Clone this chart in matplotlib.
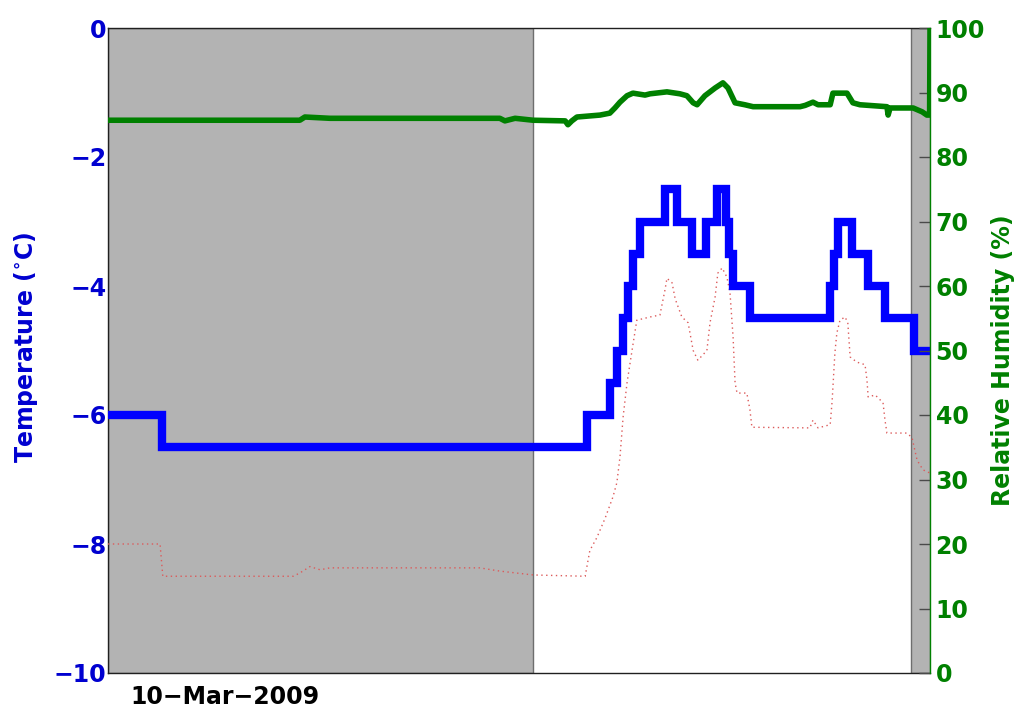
import datetime as dt
import matplotlib
matplotlib.use("Agg")
import matplotlib.pyplot as plt
import matplotlib.dates as mdates
from matplotlib.ticker import FixedLocator

# ---------------------------------------------------------------- data
# times are hours relative to 00:00 on 10 March 2009
day = dt.datetime(2009, 3, 10)
x_start_h, x_end_h = -3.0, 18.0

# air temperature (deg C), logged in 0.5 degree steps
temp_hours = [-3.00, -1.62, 9.24, 9.82, 10.00, 10.16, 10.28, 10.41, 10.59,
              11.23, 11.54, 11.92, 12.28, 12.56, 12.80, 12.87, 12.97, 13.40,
              15.45, 15.55, 15.65, 16.01, 16.42, 16.85, 17.59, 18.00]
temp_values = [-6.0, -6.5, -6.0, -5.5, -5.0, -4.5, -4.0, -3.5, -3.0,
               -2.5, -3.0, -3.5, -3.0, -2.5, -3.0, -3.5, -4.0, -4.5,
               -4.0, -3.5, -3.0, -3.5, -4.0, -4.5, -5.0, -5.0]

# dew point (deg C)
dew_hours = [-3.00, -1.67, -1.60, 1.73, 1.90, 2.16, 2.42, 2.67, 6.50, 7.01,
             7.86, 9.19, 9.31, 9.49, 9.70, 9.90, 10.00, 10.08, 10.16, 10.26,
             10.39, 10.51, 10.85, 11.10, 11.23, 11.28, 11.41, 11.49, 11.66,
             11.82, 11.95, 12.07, 12.30, 12.38, 12.51, 12.58, 12.69, 12.81,
             12.89, 12.97, 13.02, 13.07, 13.32, 13.40, 13.45, 14.93, 15.01,
             15.14, 15.45, 15.50, 15.57, 15.62, 15.70, 15.83, 15.90, 15.96,
             16.13, 16.34, 16.39, 16.42, 16.60, 16.80, 16.85, 16.90, 17.41,
             17.54, 17.67, 17.82, 18.00]
dew_values = [-8.0, -8.0, -8.5, -8.5, -8.45, -8.35, -8.4, -8.37, -8.37, -8.42,
              -8.48, -8.5, -8.1, -7.9, -7.6, -7.27, -7.05, -6.65, -6.03, -5.5,
              -4.99, -4.53, -4.48, -4.45, -4.06, -3.88, -3.95, -4.2, -4.48,
              -4.57, -5.0, -5.15, -5.0, -4.57, -4.17, -3.8, -3.72, -3.86,
              -4.1, -4.8, -5.5, -5.66, -5.66, -5.92, -6.19, -6.2, -6.08,
              -6.2, -6.15, -5.78, -5.04, -4.73, -4.53, -4.48, -4.57, -5.1,
              -5.18, -5.22, -5.46, -5.72, -5.69, -5.81, -6.08, -6.28, -6.28,
              -6.35, -6.7, -6.85, -6.9]

# relative humidity (%)
rh_hours = [-3.00, 1.90, 2.03, 2.67, 7.01, 7.14, 7.40, 7.86, 8.68, 8.75,
            8.85, 8.98, 9.57, 9.82, 9.95, 10.08, 10.26, 10.41, 10.72, 10.85,
            11.28, 11.61, 11.79, 11.95, 12.05, 12.25, 12.51, 12.71, 12.84,
            13.02, 13.27, 13.48, 14.68, 14.81, 15.01, 15.14, 15.45, 15.52,
            15.88, 16.03, 16.21, 16.90, 16.93, 16.98, 17.57, 17.80, 17.92,
            17.99, 18.00]
rh_values = [85.7, 85.7, 86.2, 86.0, 86.0, 85.6, 86.0, 85.7, 85.6, 85.0,
             85.6, 86.2, 86.5, 86.8, 87.6, 88.5, 89.5, 89.9, 89.6, 89.8,
             90.1, 89.8, 89.5, 88.4, 88.1, 89.5, 90.7, 91.5, 90.7,
             88.4, 88.1, 87.8, 87.8, 88.0, 88.5, 88.1, 88.1, 89.9,
             89.9, 88.4, 88.1, 87.8, 86.5, 87.6, 87.6, 87.0, 86.5,
             86.5, 100.0]

# night-time periods (start, end) in hours
night_periods = [(-3.00, 7.86), (17.51, 18.00)]

temp_ticks = [-10, -8, -6, -4, -2, 0]
rh_ticks = list(range(0, 101, 10))

# ---------------------------------------------------------------- style
BLUE = "#0000ff"
BLUE_TXT = "#0000d0"
GREEN = "#008000"
plt.rcParams["font.family"] = ["DejaVu Sans"]
plt.rcParams["font.weight"] = "bold"
plt.rcParams["mathtext.fontset"] = "dejavusans"
FS = 17


def to_dates(hours):
    return [day + dt.timedelta(hours=h) for h in hours]


fig = plt.figure(figsize=(10.25, 7.08), dpi=100)
ax = fig.add_axes([108 / 1025, 35 / 708, 822 / 1025, 645 / 708])

for start, end in night_periods:
    ax.axvspan(mdates.date2num(day + dt.timedelta(hours=start)),
               mdates.date2num(day + dt.timedelta(hours=end)),
               facecolor="#b3b3b3", edgecolor="#6e6e6e", linewidth=1.0,
               zorder=1)

ax.plot(to_dates(dew_hours), dew_values, color="#dc5a5a", linewidth=1.0,
        linestyle=(0, (1, 2.5)), zorder=3)
ax.plot(to_dates(temp_hours), temp_values, color=BLUE, linewidth=6.0,
        drawstyle="steps-post", solid_joinstyle="miter", zorder=4)

ax.set_xlim(day + dt.timedelta(hours=x_start_h), day + dt.timedelta(hours=x_end_h))
ax.set_ylim(-10, 0)
ax.set_yticks(temp_ticks)
ax.tick_params(axis="y", length=0, pad=1, labelsize=FS, labelcolor=BLUE_TXT)
ax.xaxis.set_major_locator(FixedLocator([mdates.date2num(day)]))
ax.xaxis.set_major_formatter(mdates.DateFormatter("%d\u2212%b\u2212%Y"))
ax.tick_params(axis="x", length=0, pad=9, labelsize=FS, labelcolor="black")
for lbl in ax.get_xticklabels() + ax.get_yticklabels():
    lbl.set_fontweight("bold")
ax.set_ylabel(r"Temperature ($^{\circ}$C)", color=BLUE_TXT, fontsize=FS,
              fontweight="bold")
ax.yaxis.set_label_coords(-0.083, 0.505)
for side in ("left", "bottom", "top"):
    ax.spines[side].set_color("#202020")
    ax.spines[side].set_linewidth(1.0)
ax.spines["right"].set_visible(False)

ax2 = ax.twinx()
ax2.plot(to_dates(rh_hours), rh_values, color=GREEN, linewidth=4.0,
         solid_joinstyle="round", zorder=3)
ax2.set_ylim(0, 100)
ax2.set_yticks(rh_ticks)
ax2.tick_params(axis="y", direction="in", length=8, width=1.0,
                color="#4a4a4a", pad=4, labelsize=FS, labelcolor=GREEN)
for lbl in ax2.get_yticklabels():
    lbl.set_fontweight("bold")
ax2.set_ylabel("Relative Humidity (%)", color=GREEN, fontsize=FS,
               fontweight="bold")
ax2.yaxis.set_label_coords(1.074, 0.485)
ax2.spines["right"].set_color(GREEN)
ax2.spines["right"].set_linewidth(1.0)
for side in ("left", "bottom", "top"):
    ax2.spines[side].set_visible(False)

fig.savefig("out.png", dpi=100)
